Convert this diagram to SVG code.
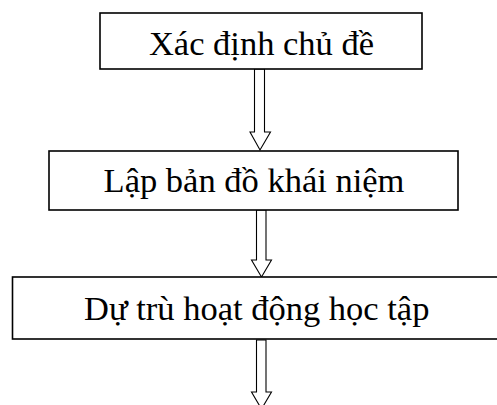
<svg xmlns="http://www.w3.org/2000/svg" width="497" height="405" viewBox="0 0 497 405">
<style>
.box{fill:#fff;stroke:#000;stroke-width:1.6}
.lbl{font-family:"Liberation Serif","Times New Roman",serif;font-size:34.5px;fill:#000;text-anchor:middle}
.arr{fill:#fff;stroke:#000;stroke-width:1.1;stroke-linejoin:miter}
</style>
<rect width="497" height="405" fill="#fff"/>
<g id="connectors">
<polygon class="arr" points="254.5,69 264.5,69 264.5,132 270.5,132 260,150 250,132 254.5,132"/>
<polygon class="arr" points="256.5,210 266,210 266,260 271.5,260 261.5,277 251.5,260 256.5,260"/>
<polygon class="arr" points="256.5,340 266,340 266,392 271.5,392 261.5,409 251.5,392 256.5,392"/>
</g>
<g id="node1">
<rect class="box" x="100" y="13" width="322" height="56"/>
<text class="lbl" x="261.5" y="55">Xác định chủ đề</text>
</g>
<g id="node2">
<rect class="box" x="49" y="151" width="409" height="59"/>
<text class="lbl" x="254" y="192">Lập bản đồ khái niệm</text>
</g>
<g id="node3">
<rect class="box" x="12.5" y="277" width="490" height="62"/>
<text class="lbl" x="256.7" y="320">Dự trù hoạt động học tập</text>
</g>
</svg>
